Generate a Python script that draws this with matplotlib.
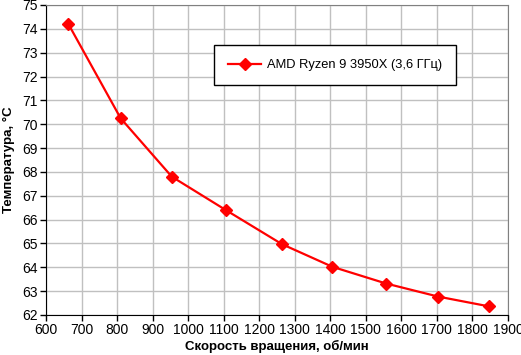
import matplotlib
matplotlib.use("Agg")
import matplotlib.pyplot as plt

plt.rcParams['font.family'] = ['Liberation Sans', 'DejaVu Sans']

# скорость вентилятора и температура
rpm = [663, 810, 954, 1106, 1264, 1406, 1557, 1704, 1847]
temp = [74.2, 70.25, 67.8, 66.4, 64.97, 64.02, 63.32, 62.77, 62.36]
label = "AMD Ryzen 9 3950X (3,6 ГГц)"

fig = plt.figure(figsize=(5.21, 3.55), dpi=100)
ax = fig.add_axes([0.0883, 0.1127, 0.8867, 0.8733])

ax.plot(rpm, temp, color='#ff0000', lw=1.6, marker='D', ms=6.5, label=label)

ax.set_xlim(600, 1900)
ax.set_ylim(62, 75)
ax.set_xticks(range(600, 1901, 100))
ax.set_yticks(range(62, 76))
ax.grid(True, color='#c0c0c0', lw=1)
ax.set_axisbelow(True)

for s in ['top', 'right']:
    ax.spines[s].set_color('#808080')
for s in ['left', 'bottom']:
    ax.spines[s].set_color('black')
ax.tick_params(direction='out', length=4, width=1, labelsize=10, pad=2)

ax.set_xlabel("Скорость вращения, об/мин", fontsize=9.5, fontweight='bold', labelpad=2)
ax.set_ylabel("Температура, °С", fontsize=9.5, fontweight='bold', labelpad=5)

leg = ax.legend(loc='upper left', bbox_to_anchor=(0.364, 0.871), fontsize=9.3,
                fancybox=False, framealpha=1, edgecolor='black',
                borderpad=1.1, handlelength=2.5, handletextpad=0.5,
                borderaxespad=0)
leg.get_frame().set_linewidth(1)

fig.savefig("out.png", dpi=100)
